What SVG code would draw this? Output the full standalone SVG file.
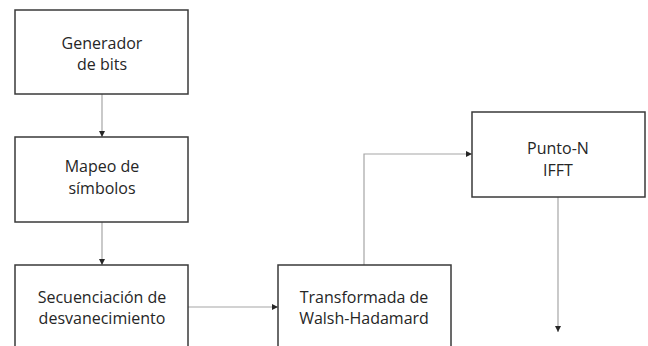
<svg xmlns="http://www.w3.org/2000/svg" width="648" height="346" viewBox="0 0 648 346">
<style>
.box{fill:#fff;stroke:#3a3a3a;stroke-width:1.5}
.lbl{font-family:"Open Sans","Liberation Sans",sans-serif;font-size:16px;fill:#262626;text-anchor:middle}
.con{fill:none;stroke:#a6a6a6;stroke-width:1.2}
</style>
<defs>
<marker id="ah" markerWidth="6" markerHeight="6" refX="6" refY="3" orient="auto" markerUnits="userSpaceOnUse">
<path d="M0,0 L6,3 L0,6 Z" fill="#262626"/>
</marker>
</defs>
<rect width="648" height="346" fill="#fff"/>
<g id="connectors">
<path class="con" d="M102,94 V137" marker-end="url(#ah)"/>
<path class="con" d="M102,222 V265" marker-end="url(#ah)"/>
<path class="con" d="M188,307 H278" marker-end="url(#ah)"/>
<path class="con" d="M364,265 V154 H472" marker-end="url(#ah)"/>
<path class="con" d="M558,197 V332" marker-end="url(#ah)"/>
</g>
<g id="gen">
<rect class="box" x="15" y="10" width="173" height="84"/>
<text class="lbl" x="102" y="49">Generador</text>
<text class="lbl" x="102" y="70">de bits</text>
</g>
<g id="mapeo">
<rect class="box" x="15" y="137" width="173" height="85"/>
<text class="lbl" x="102" y="172">Mapeo de</text>
<text class="lbl" x="102" y="194">símbolos</text>
</g>
<g id="secuencia">
<rect class="box" x="15" y="265" width="173" height="90"/>
<text class="lbl" x="102" y="303">Secuenciación de</text>
<text class="lbl" x="102" y="324">desvanecimiento</text>
</g>
<g id="walsh">
<rect class="box" x="278" y="265" width="173" height="90"/>
<text class="lbl" x="364" y="303">Transformada de</text>
<text class="lbl" x="364" y="324">Walsh-Hadamard</text>
</g>
<g id="ifft">
<rect class="box" x="472" y="112" width="173" height="85"/>
<text class="lbl" x="558" y="154">Punto-N</text>
<text class="lbl" x="558" y="176">IFFT</text>
</g>
</svg>
